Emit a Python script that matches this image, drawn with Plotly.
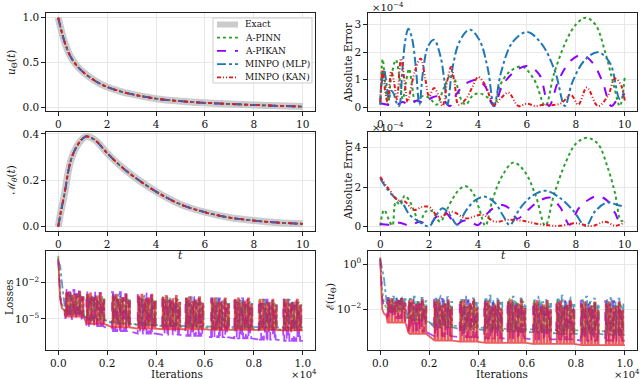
import plotly.graph_objects as go
from plotly.subplots import make_subplots

# ---- solution curves ----
t_u = [0, 0.25, 0.5, 0.75, 1, 1.5, 2, 2.5, 3, 4, 5, 6, 7, 8, 9, 10]
u_exact = [1.0, 0.74, 0.57, 0.47, 0.40, 0.30, 0.23, 0.185, 0.15, 0.10, 0.072, 0.054, 0.041, 0.03, 0.02, 0.012]

t_m = [0, 0.1, 0.25, 0.5, 0.75, 1.0, 1.15, 1.5, 2, 2.5, 3, 4, 5, 6, 7, 8, 9, 10]
m_exact = [0.0, 0.06, 0.137, 0.28, 0.345, 0.38, 0.389, 0.374, 0.317, 0.266, 0.223, 0.151, 0.096, 0.062, 0.039, 0.026, 0.017, 0.012]

# ---- absolute error of u (x1e-4) ----
eu_pinn_t = [0, 0.1, 0.2, 0.32, 0.45, 0.64, 0.8, 0.92, 1.05, 1.18, 1.3, 1.45, 1.7, 2.0, 2.3, 2.6, 2.9, 3.1, 3.3, 3.5,
             3.8, 4.1, 4.4, 4.65, 4.9, 5.3, 5.8, 6.3, 6.75, 7.1, 7.6, 8.0, 8.4, 8.8, 9.2, 9.55, 9.8, 10]
eu_pinn = [0.1, 1.75, 0.9, 0.1, 1.1, 1.72, 1.0, 0.3, 0.9, 1.4, 0.8, 0.15, 0.4, 0.35, 0.1, 0.7, 1.2, 0.9, 0.3, 0.1,
           0.45, 0.5, 0.35, 0.05, 0.8, 1.3, 1.48, 1.0, 0.05, 1.2, 2.4, 3.0, 3.25, 3.0, 2.0, 0.8, 0.05, 1.1]
eu_pikan_t = [0, 0.3, 0.6, 0.9, 1.2, 1.5, 1.8, 2.1, 2.35, 2.6, 2.85, 3.1, 3.4, 3.7, 4.0, 4.3, 4.65, 5.0, 5.5, 6.0,
              6.5, 6.9, 7.3, 7.8, 8.25, 8.7, 9.1, 9.45, 9.75, 10]
eu_pikan = [0.15, 0.1, 0.05, 0.2, 0.1, 0.25, 0.15, 0.35, 0.4, 0.25, 0.05, 0.45, 0.8, 0.95, 1.0, 0.75, 0.05, 0.8, 1.3, 1.5,
            1.2, 0.05, 1.0, 1.7, 1.9, 1.6, 0.9, 0.05, 0.35, 0.5]
eu_mlp_t = [0.0, 0.08, 0.16, 0.25, 0.35, 0.45, 0.55, 0.65, 0.77, 0.9, 1.02, 1.15, 1.3, 1.45, 1.6, 1.75, 1.95, 2.2,
            2.45, 2.62, 2.75, 2.95, 3.25, 3.65, 4.05, 4.4, 4.65, 4.95, 5.4, 6.0, 6.6, 7.15, 7.55, 7.85, 8.35, 8.9,
            9.4, 9.8, 10.0]
eu_mlp = [0.1, 1.0, 1.35, 0.9, 0.3, 0.6, 0.5, 0.2, 0.05, 1.3, 2.4, 2.85, 2.5, 1.5, 0.1, 1.3, 2.2, 2.45,
          1.9, 1.0, 0.1, 1.4, 2.4, 2.82, 2.45, 1.4, 0.05, 1.3, 2.35, 2.73, 2.3, 1.3, 0.05, 0.9, 1.7, 2.0,
          1.6, 0.3, 0.5]
eu_kan_t = [0, 0.1, 0.2, 0.3, 0.45, 0.55, 0.68, 0.85, 1.0, 1.12, 1.3, 1.45, 1.65, 1.85, 2.0, 2.2, 2.4, 2.55, 2.75,
            2.9, 3.05, 3.2, 3.5, 3.75, 4.0, 4.3, 4.65, 4.95, 5.25, 5.65, 6.0, 6.35, 6.7, 7.0, 7.4, 7.8, 8.1, 8.45,
            8.9, 9.3, 9.6, 9.85, 10]
eu_kan = [0.2, 1.35, 0.6, 0.2, 1.3, 1.0, 0.3, 1.77, 0.9, 0.2, 0.9, 1.4, 1.77, 1.0, 0.4, 0.7, 0.4, 0.05, 1.0,
          1.47, 0.8, 0.1, 0.3, 0.7, 1.1, 0.8, 0.1, 0.35, 0.53, 0.05, 0.14, 0.05, 0.1, 0.08, 0.15, 0.45, 0.1, 0.72,
          0.05, 0.4, 1.05, 0.8, 0.25]

# ---- absolute error of M (x1e-4) ----
em_pinn_t = [0, 0.16, 0.37, 0.5, 0.64, 0.82, 1.0, 1.2, 1.4, 1.6, 1.85, 2.1, 2.45, 2.7, 3.0, 3.25, 3.5, 3.8, 4.05,
             4.3, 4.6, 5.0, 5.45, 5.9, 6.35, 6.75, 7.1, 7.6, 8.0, 8.45, 8.9, 9.3, 9.6, 9.85, 10]
em_pinn = [0.05, 0.85, 0.3, 0.05, 1.27, 1.1, 1.57, 1.3, 0.75, 0.15, 0.75, 0.8, 0.25, 0.8, 1.5, 1.9, 2.05, 1.7, 0.9,
           0.05, 1.4, 2.6, 3.25, 2.8, 1.6, 0.05, 1.6, 3.3, 4.2, 4.5, 4.2, 3.0, 1.7, 0.3, 0.35]
em_pikan_t = [0, 0.4, 0.8, 1.2, 1.6, 2.0, 2.3, 2.65, 2.9, 3.1, 3.4, 3.7, 4.0, 4.4, 4.7, 5.0, 5.3, 5.6, 6.0, 6.5,
              6.95, 7.35, 7.75, 8.1, 8.5, 8.9, 9.3, 9.6, 9.8, 10]
em_pikan = [0.13, 0.1, 0.2, 0.05, 0.25, 0.1, 0.5, 0.72, 0.4, 0.1, 0.3, 0.25, 0.08, 0.7, 1.0, 1.1, 0.9, 0.4, 0.8, 1.3,
            1.47, 1.0, 0.1, 0.9, 1.35, 1.55, 1.3, 0.7, 0.25, 0.37]
em_mlp_t = [0, 0.23, 0.57, 0.9, 1.2, 1.6, 2.0, 2.3, 2.55, 2.85, 3.15, 3.5, 3.9, 4.3, 4.7, 5.05, 5.3, 5.7, 6.2, 6.75,
            7.3, 7.9, 8.4, 8.8, 9.3, 9.7, 10]
em_mlp = [2.45, 2.0, 1.5, 1.2, 0.6, 0.25, 0.02, 0.6, 0.93, 0.6, 0.1, 0.8, 1.35, 1.52, 1.2, 0.5, 0.08, 0.9, 1.55, 1.82,
          1.5, 0.8, 0.03, 0.8, 1.23, 1.1, 1.0]
em_kan_t = [0, 0.23, 0.43, 0.7, 0.98, 1.38, 1.72, 2.0, 2.4, 2.95, 3.5, 4.17, 4.7, 5.25, 5.8, 6.5, 7.3, 8.0, 8.65,
            9.2, 9.6, 10]
em_kan = [2.53, 2.1, 1.77, 1.35, 1.3, 0.85, 1.0, 1.0, 0.5, 0.75, 0.42, 0.6, 0.25, 0.35, 0.3, 0.13, 0.04, 0.17, 0.03,
          0.25, 0.05, 0.22]

# ---- training histories (log10 values) ----
head_it = [0, 40, 80, 150, 250]
burst_start = [300, 1150, 2200, 3250, 4250, 5200, 6250, 7200, 8200, 9200]

pinn_offsets = [40, 190, 330, 470, 610]
pinn_rel = [1.0, 0.85, 0.95, 0.8, 0.9]
pikan_offsets = [0, 100, 210, 320, 430, 540, 650]
pikan_rel = [1.0, 0.9, 0.8, 1.0, 0.85, 0.95, 0.75]
mlp_offsets = [60, 220, 380, 540, 700]
mlp_rel = [0.9, 1.0, 0.85, 0.95, 0.8]
kan_offsets = [20, 150, 290, 420, 560, 690]
kan_rel = [0.95, 1.0, 0.85, 0.9, 1.0, 0.8]

loss_head = {'pinn': [0.2, -1.5, -2.8, -3.8, -4.2], 'pikan': [-0.1, -2.0, -3.2, -4.0, -4.4],
             'mlp': [-0.3, -0.5, -0.6, -2.0, -4.0], 'kan': [0.0, -2.0, -3.4, -4.1, -4.3]}
loss_floor = {'pinn': [-4.5, -5.0, -5.3, -5.5, -5.6, -5.7, -5.75, -5.8, -5.85, -5.9],
              'pikan': [-5.0, -5.6, -6.0, -6.2, -6.3, -6.4, -6.5, -6.6, -6.7, -6.8],
              'mlp': [-4.6, -5.1, -5.4, -5.5, -5.55, -5.6, -5.65, -5.65, -5.7, -5.7],
              'kan': [-4.8, -5.4, -5.7, -5.8, -5.85, -5.85, -5.9, -5.9, -5.9, -5.95]}
loss_top = {'pinn': [-2.9, -3.0, -3.0, -3.1, -3.2, -3.3, -3.3, -3.4, -3.4, -3.4],
            'pikan': [-2.6, -2.7, -2.8, -2.9, -3.1, -3.2, -3.3, -3.3, -3.4, -3.4],
            'mlp': [-2.9, -3.0, -3.0, -3.1, -3.2, -3.2, -3.3, -3.3, -3.4, -3.4],
            'kan': [-2.8, -2.9, -3.0, -3.0, -3.1, -3.2, -3.3, -3.3, -3.4, -3.4]}

err_head = {'pinn': [0.3, -0.6, -1.2, -1.7, -2.0], 'pikan': [0.2, -0.9, -1.5, -1.9, -2.1],
            'mlp': [0.2, 0.0, -0.1, -0.6, -1.6], 'kan': [0.25, -0.9, -2.0, -2.2, -2.3]}
err_floor = {'pinn': [-2.1, -2.5, -2.7, -2.8, -2.85, -2.9, -2.9, -2.95, -2.95, -3.0],
             'pikan': [-2.4, -3.0, -3.2, -3.25, -3.3, -3.3, -3.35, -3.35, -3.4, -3.4],
             'mlp': [-2.0, -2.45, -2.8, -2.9, -2.95, -3.0, -3.05, -3.1, -3.1, -3.15],
             'kan': [-2.6, -3.1, -3.4, -3.45, -3.5, -3.5, -3.55, -3.55, -3.6, -3.6]}
err_top = {'pinn': [-1.5, -1.6, -1.6, -1.6, -1.6, -1.55, -1.6, -1.6, -1.6, -1.6],
           'pikan': [-1.5, -1.6, -1.55, -1.6, -1.6, -1.6, -1.65, -1.6, -1.65, -1.65],
           'mlp': [-1.45, -1.45, -1.4, -1.45, -1.4, -1.45, -1.45, -1.4, -1.45, -1.45],
           'kan': [-1.55, -1.6, -1.6, -1.6, -1.65, -1.6, -1.65, -1.65, -1.7, -1.7]}

names = {'pinn': 'A-PINN', 'pikan': 'A-PIKAN', 'mlp': 'MINPO (MLP)', 'kan': 'MINPO (KAN)'}
colors = {'pinn': '#2ca02c', 'pikan': '#8f00ff', 'mlp': '#1f77b4', 'kan': '#e31a1c'}
dashes = {'pinn': 'dot', 'pikan': 'dash', 'mlp': 'dashdot', 'kan': '4px,2px,1px,2px,1px,2px'}
hist_dashes = {'pinn': 'dot', 'pikan': 'dash', 'mlp': 'dashdot', 'kan': 'solid'}
spikes = {'pinn': (pinn_offsets, pinn_rel), 'pikan': (pikan_offsets, pikan_rel),
          'mlp': (mlp_offsets, mlp_rel), 'kan': (kan_offsets, kan_rel)}
order = ['pinn', 'pikan', 'mlp', 'kan']
EXACT_COLOR = 'rgba(190,190,190,0.8)'


def history(head, floor, top, offsets, rel):
    xs = list(head_it)
    ys = list(head)
    for b, s0 in enumerate(burst_start):
        xs.append(s0)
        ys.append(floor[b])
        for off, r in zip(offsets, rel):
            s = s0 + off
            h = floor[b] + r * (top[b] - floor[b])
            xs += [s, s, s + 40, s + 40]
            ys += [floor[b], h, h, floor[b]]
    xs.append(10000)
    ys.append(floor[-1])
    return xs, [10 ** v for v in ys]


FONT = 'DejaVu Serif'
W, H = 640, 379
fig = make_subplots(rows=3, cols=2)

# exact solution
fig.add_trace(go.Scatter(x=t_u, y=u_exact, mode='lines', line_shape='spline',
                         line=dict(color=EXACT_COLOR, width=7)), 1, 1)
fig.add_trace(go.Scatter(x=t_m, y=m_exact, mode='lines', line_shape='spline',
                         line=dict(color=EXACT_COLOR, width=7)), 2, 1)
for k in order:
    fig.add_trace(go.Scatter(x=t_u, y=u_exact, mode='lines', line_shape='spline',
                             line=dict(color=colors[k], dash=dashes[k], width=1.8)), 1, 1)
    fig.add_trace(go.Scatter(x=t_m, y=m_exact, mode='lines', line_shape='spline',
                             line=dict(color=colors[k], dash=dashes[k], width=1.8)), 2, 1)

eu = {'pinn': (eu_pinn_t, eu_pinn), 'pikan': (eu_pikan_t, eu_pikan), 'mlp': (eu_mlp_t, eu_mlp), 'kan': (eu_kan_t, eu_kan)}
em = {'pinn': (em_pinn_t, em_pinn), 'pikan': (em_pikan_t, em_pikan), 'mlp': (em_mlp_t, em_mlp), 'kan': (em_kan_t, em_kan)}
for k in order:
    fig.add_trace(go.Scatter(x=eu[k][0], y=eu[k][1], mode='lines', line_shape='spline',
                             line=dict(color=colors[k], dash=dashes[k], width=2)), 1, 2)
    fig.add_trace(go.Scatter(x=em[k][0], y=em[k][1], mode='lines', line_shape='spline',
                             line=dict(color=colors[k], dash=dashes[k], width=2)), 2, 2)

for k in order:
    lx, ly = history(loss_head[k], loss_floor[k], loss_top[k], *spikes[k])
    fig.add_trace(go.Scatter(x=lx, y=ly, mode='lines', opacity=0.7,
                             line=dict(color=colors[k], dash=hist_dashes[k], width=1.8)), 3, 1)
    ex, ey = history(err_head[k], err_floor[k], err_top[k], *spikes[k])
    fig.add_trace(go.Scatter(x=ex, y=ey, mode='lines', opacity=0.7,
                             line=dict(color=colors[k], dash=hist_dashes[k], width=1.8)), 3, 2)

axis_style = dict(showline=True, mirror=True, linecolor='#222', linewidth=1.2, ticks='outside', ticklen=3.5,
                  tickwidth=0.8, tickcolor='#222', showgrid=True, gridcolor='#e8e8e8', gridwidth=0.8,
                  zeroline=False, automargin=False, tickfont=dict(family=FONT, size=10.5, color='#111'))
fig.update_xaxes(**axis_style)
fig.update_yaxes(**axis_style)

left_x, right_x = [46 / W, 315 / W], [368 / W, 637 / W]
rows_y = [[1 - 111 / H, 1 - 13.3 / H], [1 - 231 / H, 1 - 132.3 / H], [1 - 350 / H, 1 - 251 / H]]
t_ticks = [0, 2, 4, 6, 8, 10]
it_ticks = [0, 2000, 4000, 6000, 8000, 10000]
it_text = ['0.0', '0.2', '0.4', '0.6', '0.8', '1.0']
fig.update_layout(
    xaxis=dict(domain=left_x, range=[-0.5, 10.5], tickvals=t_ticks),
    xaxis2=dict(domain=right_x, range=[-0.5, 10.5], tickvals=t_ticks),
    xaxis3=dict(domain=left_x, range=[-0.5, 10.5], tickvals=t_ticks),
    xaxis4=dict(domain=right_x, range=[-0.5, 10.5], tickvals=t_ticks),
    xaxis5=dict(domain=left_x, range=[-500, 10500], tickvals=it_ticks, ticktext=it_text),
    xaxis6=dict(domain=right_x, range=[-500, 10500], tickvals=it_ticks, ticktext=it_text),
    yaxis=dict(domain=rows_y[0], range=[-0.037, 1.049], tickvals=[0, 0.5, 1.0], ticktext=['0.0', '0.5', '1.0']),
    yaxis2=dict(domain=rows_y[0], range=[-0.13, 3.41], tickvals=[0, 1, 2, 3]),
    yaxis3=dict(domain=rows_y[1], range=[-0.019, 0.407], tickvals=[0, 0.2, 0.4], ticktext=['0.0', '0.2', '0.4']),
    yaxis4=dict(domain=rows_y[1], range=[-0.22, 4.78], tickvals=[0, 2, 4]),
    yaxis5=dict(domain=rows_y[2], type='log', range=[-7.56, 0.6], tickvals=[1e-2, 1e-5],
                ticktext=['10<sup>−2</sup>', '10<sup>−5</sup>']),
    yaxis6=dict(domain=rows_y[2], type='log', range=[-3.82, 0.58], tickvals=[1, 1e-2],
                ticktext=['10<sup>0</sup>', '10<sup>−2</sup>']),
    width=W, height=H,
    margin=dict(l=0, r=0, t=0, b=0),
    paper_bgcolor='white', plot_bgcolor='white',
    font=dict(family=FONT, size=10, color='#111'),
    showlegend=False,
)

# legend box drawn in the top-left panel
fig.add_shape(type='rect', xref='paper', yref='paper', x0=213 / W, x1=312 / W, y0=1 - 83 / H, y1=1 - 18 / H,
              fillcolor='rgba(255,255,255,0.85)', line=dict(color='#cccccc', width=1), layer='above')
legend_rows = [('Exact', EXACT_COLOR, 'solid', 6)] + [(names[k], colors[k], dashes[k], 1.8) for k in order]
for i, (txt, col, dsh, lw) in enumerate(legend_rows):
    yy = 1 - (24.5 + 13.2 * i) / H
    fig.add_shape(type='line', xref='paper', yref='paper', x0=217 / W, x1=238 / W, y0=yy, y1=yy,
                  line=dict(color=col, dash=dsh, width=lw), layer='above')
    fig.add_annotation(x=243 / W, y=yy, xref='paper', yref='paper', text=txt, xanchor='left', yanchor='middle',
                       showarrow=False, font=dict(family=FONT, size=9, color='#111'))

labels = [
    (12, 63, '<i>u</i><sub>Θ</sub>(<i>t</i>)', -90),
    (12, 180, 'ℳ<sub><i>θ</i></sub>(<i>t</i>)', -90),
    (9, 297, 'Losses', -90),
    (348, 63, 'Absolute Error', -90),
    (348, 180, 'Absolute Error', -90),
    (331, 297, 'ℰ(<i>u</i><sub>Θ</sub>)', -90),
    (180, 255, '<i>t</i>', 0),
    (503, 255, '<i>t</i>', 0),
    (177, 374, 'Iterations', 0),
    (502, 374, 'Iterations', 0),
]
for px, py, txt, ang in labels:
    fig.add_annotation(x=px / W, y=1 - py / H, xref='paper', yref='paper', text=txt, textangle=ang,
                       xanchor='center', yanchor='middle',
                       showarrow=False, font=dict(family=FONT, size=10.5, color='#111'))

offsets_txt = [(370, 7, '×10<sup>−4</sup>'), (370, 127, '×10<sup>−4</sup>'),
               (289, 374, '×10<sup>4</sup>'), (612, 374, '×10<sup>4</sup>')]
for px, py, txt in offsets_txt:
    fig.add_annotation(x=px / W, y=1 - py / H, xref='paper', yref='paper', text=txt, xanchor='left',
                       yanchor='middle', showarrow=False, font=dict(family=FONT, size=10, color='#111'))

fig.write_html("out.html", config={'displayModeBar': False},
               post_script="document.body.style.margin='0';")
